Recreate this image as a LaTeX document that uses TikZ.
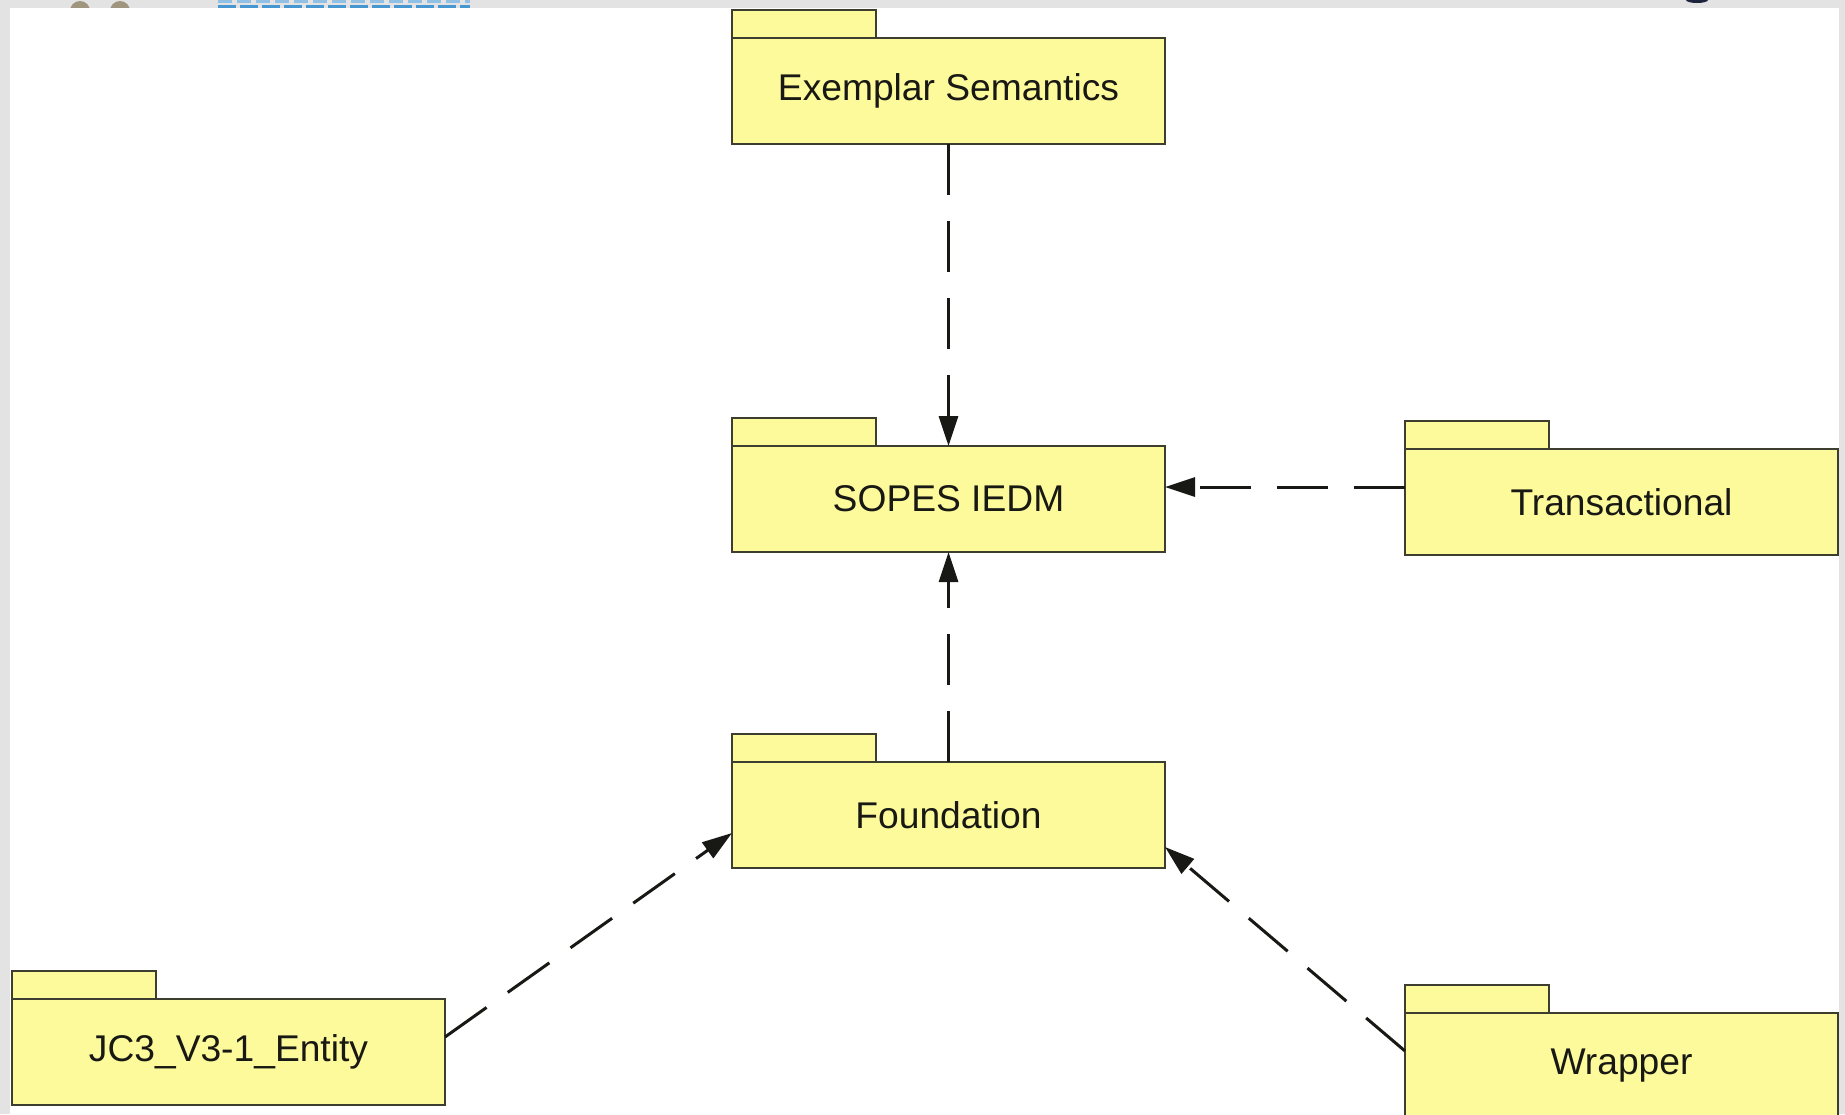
\documentclass[tikz,border=0pt]{standalone}
\usepackage{fontspec}
\setmainfont{Liberation Sans}
\usetikzlibrary{arrows.meta}
\definecolor{pkgfill}{RGB}{253,250,155}
\definecolor{pkgline}{RGB}{62,62,48}
\definecolor{framegray}{RGB}{227,227,227}
\definecolor{ink}{RGB}{24,24,20}
\definecolor{logobrown}{RGB}{160,150,128}
\definecolor{logodark}{RGB}{30,35,60}
\definecolor{logoblue}{RGB}{70,150,210}
\begin{document}
\begin{tikzpicture}[x=1pt,y=-1pt,
  pkgbody/.style={draw=pkgline, fill=pkgfill, line width=2.8pt, minimum width=433pt,
    minimum height=106pt, anchor=north west, inner sep=0pt, outer sep=0pt,
    font=\fontsize{37.2}{42}\selectfont, text=ink},
  pkgtab/.style={draw=pkgline, fill=pkgfill, line width=2.8pt},
  dep/.style={draw=ink, line width=3pt, dash pattern=on 51pt off 26pt,
    -{Triangle[length=30pt,width=19pt]}}]
\useasboundingbox (0,0) rectangle (1845,1114);
\clip (0,0) rectangle (1845,1114);
% slide frame
\fill[framegray] (0,0) rectangle (1845,1114);
\fill[logobrown] (80,11) circle[radius=10];
\fill[logobrown] (120,11) circle[radius=10];
\draw[logoblue!60, line width=2.5pt, dash pattern=on 14pt off 5pt] (218,1.5) -- (470,1.5);
\draw[logoblue, line width=2.5pt, dash pattern=on 18pt off 4pt] (218,6.5) -- (470,6.5);
\fill[logodark] (1697,0) ellipse[x radius=11, y radius=3];
\fill[white] (10,8) rectangle (1839,1114);
% packages
\node[pkgbody] (ex) at (732,38) {Exemplar Semantics};
\draw[pkgtab] (ex.north west) rectangle ++(144,-28);
\node[pkgbody] (sopes) at (732,446) {SOPES IEDM};
\draw[pkgtab] (sopes.north west) rectangle ++(144,-28);
\node[pkgbody] (trans) at (1405,449) {Transactional};
\draw[pkgtab] (trans.north west) rectangle ++(144,-28);
\node[pkgbody] (found) at (732,762) {Foundation};
\draw[pkgtab] (found.north west) rectangle ++(144,-28);
\node[pkgbody] (jc3) at (12,999) {JC3\_V3-1\_Entity};
\draw[pkgtab] (jc3.north west) rectangle ++(144,-28);
\node[pkgbody] (wrap) at (1405,1013) {Wrapper};
\draw[pkgtab] (wrap.north west) rectangle ++(144,-28);
% connector end points
\coordinate (tIn) at ([yshift=-38pt]trans.north west);
\coordinate (jOut) at ([yshift=-38pt]jc3.north east);
\coordinate (fL) at ([yshift=-71pt]found.north west);
\coordinate (wOut) at ([yshift=-38pt]wrap.north west);
\coordinate (fR) at ([yshift=-85pt]found.north east);
% dependencies
\draw[dep] (ex.south) -- (sopes.north);
\draw[dep] (found.north) -- (sopes.south);
\draw[dep] (tIn) -- (tIn -| sopes.east);
\draw[dep] (jOut) -- (fL);
\draw[dep] (wOut) -- (fR);
\end{tikzpicture}
\end{document}
